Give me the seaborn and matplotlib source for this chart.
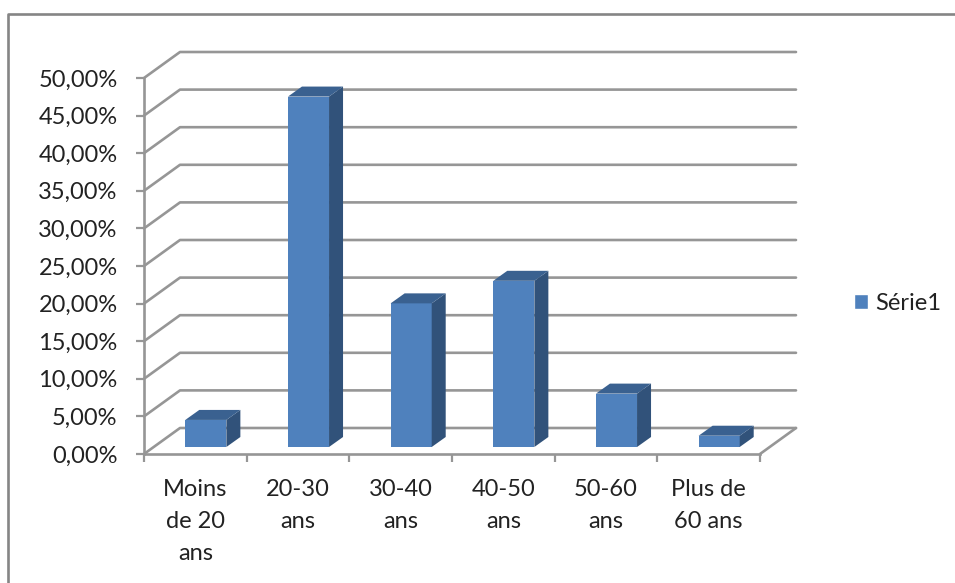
import numpy as np
import pandas as pd
import matplotlib
matplotlib.use("Agg")
import matplotlib.pyplot as plt
import seaborn as sns
from matplotlib.lines import Line2D
from matplotlib.patches import Patch, Polygon
from matplotlib.transforms import Affine2D, IdentityTransform

categories = ["Moins\nde 20\nans", "20-30\nans", "30-40\nans", "40-50\nans", "50-60\nans", "Plus de\n60 ans"]
values = [3.6, 46.6, 19.1, 22.1, 7.1, 1.5]
y_ticks = [0, 5, 10, 15, 20, 25, 30, 35, 40, 45, 50]
y_labels = ["0,00%", "5,00%", "10,00%", "15,00%", "20,00%", "25,00%", "30,00%", "35,00%", "40,00%", "45,00%", "50,00%"]
series_name = "Série1"

FRONT = "#4F81BD"
SIDE = "#31527A"
TOP = "#3A6190"
GREY = "#969696"
TEXT = "#222222"
W, H = 955, 583
FONT_SIZE = 17

sns.set_style("white")
plt.rcParams["font.family"] = ["Lato", "DejaVu Sans"]

fig = plt.figure(figsize=(W / 100, H / 100), dpi=100)
ax = fig.add_axes([144 / W, (H - 454) / H, (760 - 144) / W, (454 - 78) / H])

df = pd.DataFrame({"cat": categories, "val": values})
sns.barplot(data=df, x="cat", y="val", color=FRONT, saturation=1, width=0.4, ax=ax, zorder=3)

ax.set_xlim(-0.5, 5.5)
ax.set_ylim(0, 50)
ax.set_xlabel("")
ax.set_ylabel("")

ax.set_yticks(y_ticks, y_labels)
ax.set_xticks(np.arange(-0.5, 6), [""] * 7)
ax.set_xticks(range(6), categories, minor=True)
ax.tick_params(axis="y", length=6, width=1.6, color=GREY, labelsize=FONT_SIZE, labelcolor=TEXT, pad=13, left=True)
ax.tick_params(axis="x", which="major", length=6, width=1.6, color=GREY, bottom=True)
ax.tick_params(axis="x", which="minor", length=0, labelsize=FONT_SIZE, labelcolor=TEXT, pad=18)
for lab in ax.get_xticklabels(minor=True):
    lab.set_linespacing(1.64)

for s in ["top", "right"]:
    ax.spines[s].set_visible(False)
for s in ["left", "bottom"]:
    ax.spines[s].set_color(GREY)
    ax.spines[s].set_linewidth(1.9)

# back wall and floor, pixel offsets of the fake depth
depth_x, depth_y = 36, 26
for v in y_ticks:
    x0, y0 = ax.transData.transform((-0.5, v))
    x1, _ = ax.transData.transform((5.5, v))
    ax.add_line(Line2D([x0, x0 + depth_x, x1 + depth_x], [y0, y0 + depth_y, y0 + depth_y],
                       transform=IdentityTransform(), color=GREY, lw=1.9, clip_on=False, zorder=1))
x0, y0 = ax.transData.transform((5.5, 0))
ax.add_line(Line2D([x0, x0 + depth_x], [y0, y0 + depth_y], transform=IdentityTransform(),
                   color=GREY, lw=1.9, clip_on=False, zorder=1))

# bars sit in the middle of the depth, add side and top faces
shift_x, shift_y = 10.5, 7
bar_dx, bar_dy = 14, 10
for bar in list(ax.patches):
    bar.set_transform(ax.transData + Affine2D().translate(shift_x, shift_y))
    bar.set_clip_on(False)
    bar.set_linewidth(0)
    l, b = ax.transData.transform((bar.get_x(), 0))
    r, t = ax.transData.transform((bar.get_x() + bar.get_width(), bar.get_height()))
    l, r = l + shift_x, r + shift_x
    b, t = b + shift_y, t + shift_y
    side = [(r, b), (r + bar_dx, b + bar_dy), (r + bar_dx, t + bar_dy), (r, t)]
    top = [(l, t), (l + bar_dx, t + bar_dy), (r + bar_dx, t + bar_dy), (r, t)]
    ax.add_patch(Polygon(side, closed=True, transform=IdentityTransform(), facecolor=SIDE, lw=0, clip_on=False, zorder=3))
    ax.add_patch(Polygon(top, closed=True, transform=IdentityTransform(), facecolor=TOP, lw=0, clip_on=False, zorder=3))

fig.legend(handles=[Patch(facecolor=FRONT, label=series_name)], loc="center left",
           bbox_to_anchor=(854 / W, (H - 303) / H), frameon=False, fontsize=FONT_SIZE,
           labelcolor=TEXT, handlelength=0.6, handleheight=0.6, handletextpad=0.3,
           borderpad=0, borderaxespad=0)

# outer chart frame, only left and top are in view
fig.add_artist(Line2D([8 / W, 8 / W, 1], [0, (H - 14) / H, (H - 14) / H],
                      transform=fig.transFigure, color="#858585", lw=1.9))

fig.savefig("out.png", dpi=100)
